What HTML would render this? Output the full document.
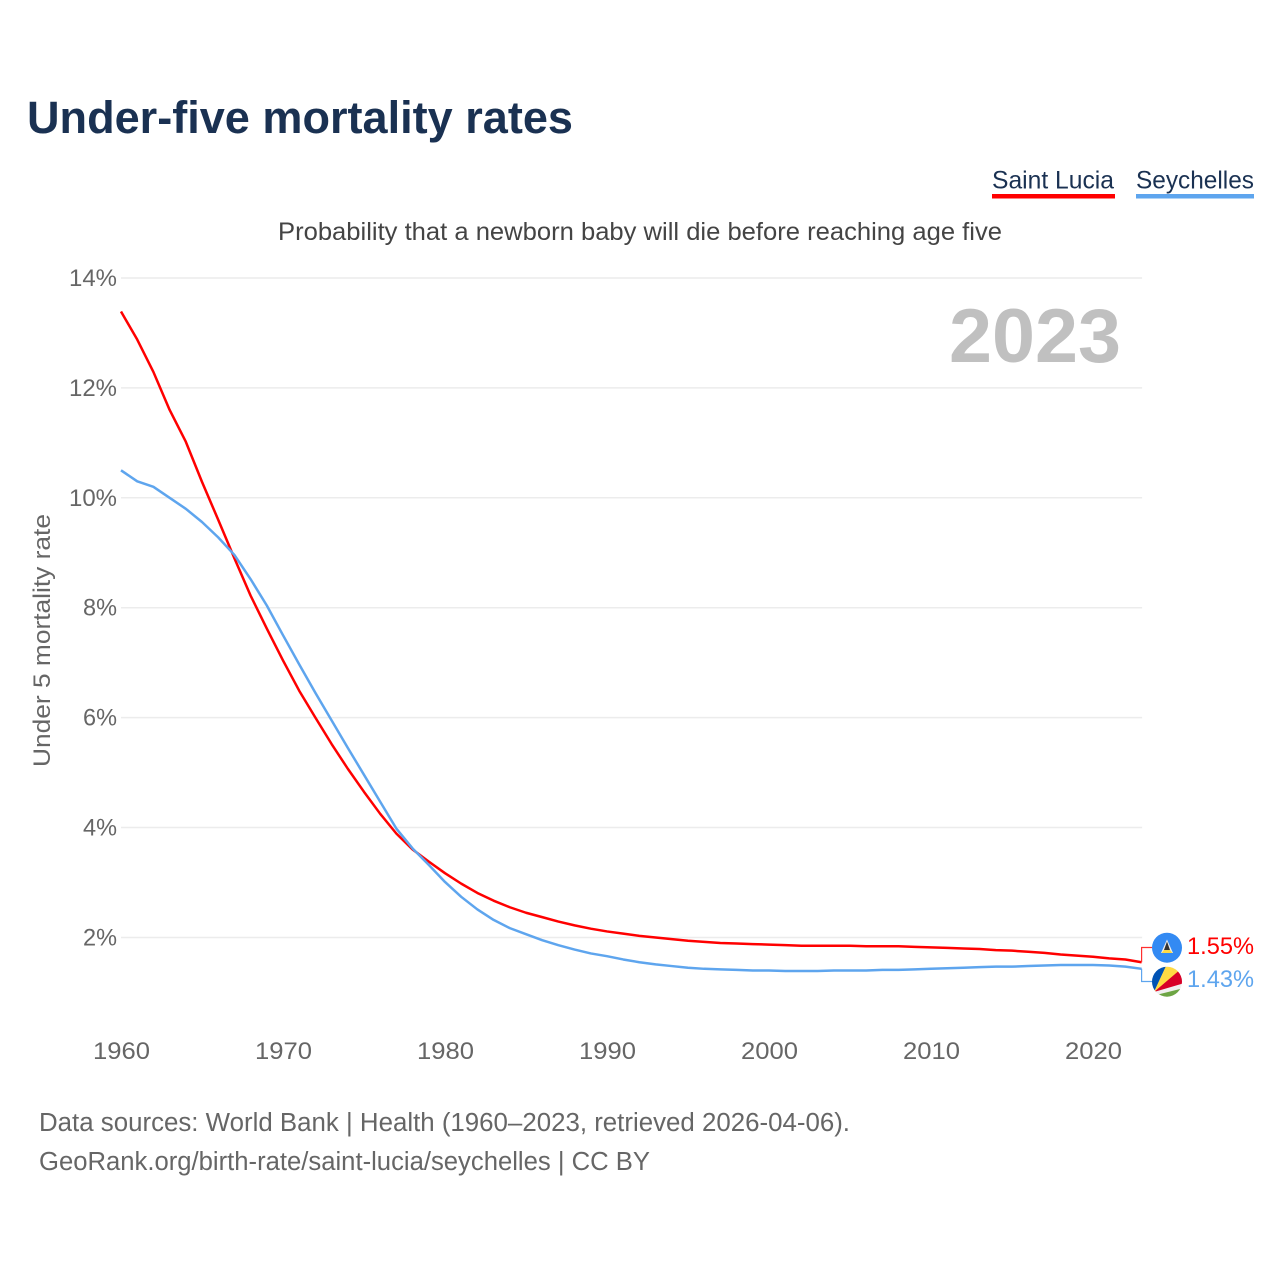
<!DOCTYPE html>
<html lang="en">
<head>
<meta charset="utf-8">
<title>Under-five mortality rates</title>
<style>
html,body{margin:0;padding:0;background:#fff;width:1280px;height:1280px;overflow:hidden}
svg{display:block}
text{font-family:"Liberation Sans",sans-serif}
a{cursor:pointer}
</style>
</head>
<body>
<svg id="chart" xmlns="http://www.w3.org/2000/svg" width="1280" height="1280" viewBox="0 0 1280 1280">
  <defs>
    <clipPath id="flag-clip-sc"><circle cx="1167" cy="981.7" r="15"/></clipPath>
  </defs>
  <rect x="0" y="0" width="1280" height="1280" fill="#fff"/>

  <text x="27" y="133" font-size="45" font-weight="700" fill="#1a3152" textLength="546" lengthAdjust="spacingAndGlyphs">Under-five mortality rates</text>

  <g>
    <text x="992" y="188.5" font-size="25" fill="#1a3152" textLength="122" lengthAdjust="spacingAndGlyphs">Saint Lucia</text>
    <rect x="992" y="194" width="123" height="4.5" fill="#ff0000"/>
  </g>
  <g>
    <text x="1136" y="188.5" font-size="25" fill="#1a3152" textLength="118" lengthAdjust="spacingAndGlyphs">Seychelles</text>
    <rect x="1136" y="194" width="118" height="4.5" fill="#5ea5ee"/>
  </g>

  <text x="278" y="240" font-size="25" fill="#444" textLength="724" lengthAdjust="spacingAndGlyphs">Probability that a newborn baby will die before reaching age five</text>

  <g id="grid"></g>
  <g id="y-ticks"></g>
  <g id="x-ticks"></g>

  <text x="949" y="362" font-size="76" font-weight="700" fill="#c0c0c0" textLength="172" lengthAdjust="spacingAndGlyphs">2023</text>

  <text transform="translate(50,767) rotate(-90)" x="0" y="0" font-size="24" fill="#666" textLength="253" lengthAdjust="spacingAndGlyphs">Under 5 mortality rate</text>

  <g id="series"></g>

  <g>
    <circle cx="1167" cy="947.7" r="15" fill="#338af3"/>
    <polygon points="1167,939.5 1173,953 1161,953" fill="#f0f0f0"/>
    <polygon points="1167,946 1172.5,953 1161.5,953" fill="#ffda44"/>
    <polygon points="1167,941.5 1170,950 1164,950" fill="#333"/>
  </g>
  <g clip-path="url(#flag-clip-sc)">
    <rect x="1150" y="965" width="34" height="34" fill="#f0f0f0"/>
    <polygon points="1154,992 1145,992 1145,960 1169,960" fill="#0052b4"/>
    <polygon points="1154,992 1166,966 1180,960 1182,970" fill="#ffda44"/>
    <polygon points="1154,992 1178,971.5 1186,970 1186,982.5" fill="#d80027"/>
    <polygon points="1156,995 1180,989 1184,1000 1156,1000" fill="#6da544"/>
  </g>

  <text id="value-sl" x="1187" y="954" font-size="24.5" fill="#ff0000" textLength="67" lengthAdjust="spacingAndGlyphs"></text>
  <text id="value-sc" x="1187" y="987" font-size="24.5" fill="#5ea5ee" textLength="67" lengthAdjust="spacingAndGlyphs"></text>

  <text x="39" y="1131" font-size="25.5" fill="#666" textLength="811" lengthAdjust="spacingAndGlyphs">Data sources: World Bank | Health (1960–2023, retrieved 2026-04-06).</text>
  <a><text x="39" y="1170" font-size="25.5" fill="#666" textLength="611" lengthAdjust="spacingAndGlyphs">GeoRank.org/birth-rate/saint-lucia/seychelles | CC BY</text></a>
</svg>

<script>
const years = [1960,1961,1962,1963,1964,1965,1966,1967,1968,1969,1970,1971,1972,1973,1974,1975,1976,1977,1978,1979,1980,1981,1982,1983,1984,1985,1986,1987,1988,1989,1990,1991,1992,1993,1994,1995,1996,1997,1998,1999,2000,2001,2002,2003,2004,2005,2006,2007,2008,2009,2010,2011,2012,2013,2014,2015,2016,2017,2018,2019,2020,2021,2022,2023];
const saintLucia = [13.39,12.88,12.29,11.6,11.02,10.29,9.6,8.9,8.22,7.62,7.04,6.49,6.0,5.52,5.07,4.65,4.25,3.89,3.6,3.38,3.17,2.98,2.81,2.67,2.55,2.45,2.37,2.29,2.22,2.16,2.11,2.07,2.03,2.0,1.97,1.94,1.92,1.9,1.89,1.88,1.87,1.86,1.85,1.85,1.85,1.85,1.84,1.84,1.84,1.83,1.82,1.81,1.8,1.79,1.77,1.76,1.74,1.72,1.69,1.67,1.65,1.62,1.6,1.55];
const seychelles = [10.5,10.3,10.2,10.0,9.8,9.56,9.28,8.96,8.52,8.04,7.5,6.97,6.45,5.95,5.45,4.96,4.47,3.98,3.62,3.32,3.01,2.74,2.51,2.32,2.17,2.06,1.95,1.86,1.78,1.71,1.66,1.6,1.55,1.51,1.48,1.45,1.43,1.42,1.41,1.4,1.4,1.39,1.39,1.39,1.4,1.4,1.4,1.41,1.41,1.42,1.43,1.44,1.45,1.46,1.47,1.47,1.48,1.49,1.5,1.5,1.5,1.49,1.47,1.43];
const yTickValues = [2,4,6,8,10,12,14];
const xTickValues = [1960,1970,1980,1990,2000,2010,2020];

const NS = 'http://www.w3.org/2000/svg';
function xScale(year){ return 121 + (year - 1960) * 16.2; }
function yScale(pct){ return 1047.4 - pct * 54.96; }

const grid = document.getElementById('grid');
const yTicks = document.getElementById('y-ticks');
const xTicks = document.getElementById('x-ticks');
const series = document.getElementById('series');

yTickValues.forEach(function(v){
  const line = document.createElementNS(NS, 'line');
  
  
  line.setAttribute('x1', xScale(1960));
  line.setAttribute('x2', xScale(2023) + 0.5);
  line.setAttribute('y1', yScale(v));
  line.setAttribute('y2', yScale(v));
  line.setAttribute('stroke', '#ececec');
  line.setAttribute('stroke-width', '1.5');
  grid.appendChild(line);

  const label = document.createElementNS(NS, 'text');
  
  
  const txt = v + '%';
  const w = 14 * txt.length + 6;
  label.setAttribute('x', 117 - w);
  label.setAttribute('y', yScale(v) + 8);
  label.setAttribute('font-size', '24');
  label.setAttribute('fill', '#666');
  label.setAttribute('textLength', w);
  label.setAttribute('lengthAdjust', 'spacingAndGlyphs');
  label.textContent = txt;
  yTicks.appendChild(label);
});

xTickValues.forEach(function(v){
  const label = document.createElementNS(NS, 'text');
  
  
  label.setAttribute('x', xScale(v) - 28);
  label.setAttribute('y', 1059);
  label.setAttribute('font-size', '24.5');
  label.setAttribute('fill', '#666');
  label.setAttribute('textLength', '57');
  label.setAttribute('lengthAdjust', 'spacingAndGlyphs');
  label.textContent = String(v);
  xTicks.appendChild(label);
});

function pathFor(values){
  return values.map(function(v, i){
    return (i ? 'L' : 'M') + xScale(years[i]).toFixed(2) + ' ' + yScale(v).toFixed(2);
  }).join(' ');
}

const lineSL = document.createElementNS(NS, 'path');


lineSL.setAttribute('d', pathFor(saintLucia));
lineSL.setAttribute('fill', 'none');
lineSL.setAttribute('stroke', '#ff0000');
lineSL.setAttribute('stroke-width', '2.5');
lineSL.setAttribute('stroke-linejoin', 'round');
series.appendChild(lineSL);

const lineSC = document.createElementNS(NS, 'path');


lineSC.setAttribute('d', pathFor(seychelles));
lineSC.setAttribute('fill', 'none');
lineSC.setAttribute('stroke', '#5ea5ee');
lineSC.setAttribute('stroke-width', '2.5');
lineSC.setAttribute('stroke-linejoin', 'round');
series.appendChild(lineSC);

const lastSL = saintLucia[saintLucia.length - 1];
const lastSC = seychelles[seychelles.length - 1];
const endX = xScale(years[years.length - 1]);

const leaderSL = document.createElementNS(NS, 'path');


leaderSL.setAttribute('d', 'M' + endX + ' ' + yScale(lastSL) + ' V947.5 H1152');
leaderSL.setAttribute('fill', 'none');
leaderSL.setAttribute('stroke', '#ff3030');
leaderSL.setAttribute('stroke-width', '1.2');
series.appendChild(leaderSL);

const leaderSC = document.createElementNS(NS, 'path');


leaderSC.setAttribute('d', 'M' + endX + ' ' + yScale(lastSC) + ' V981.5 H1152');
leaderSC.setAttribute('fill', 'none');
leaderSC.setAttribute('stroke', '#5ea5ee');
leaderSC.setAttribute('stroke-width', '1.2');
series.appendChild(leaderSC);

document.getElementById('value-sl').textContent = lastSL.toFixed(2) + '%';
document.getElementById('value-sc').textContent = lastSC.toFixed(2) + '%';
</script>
</body>
</html>
